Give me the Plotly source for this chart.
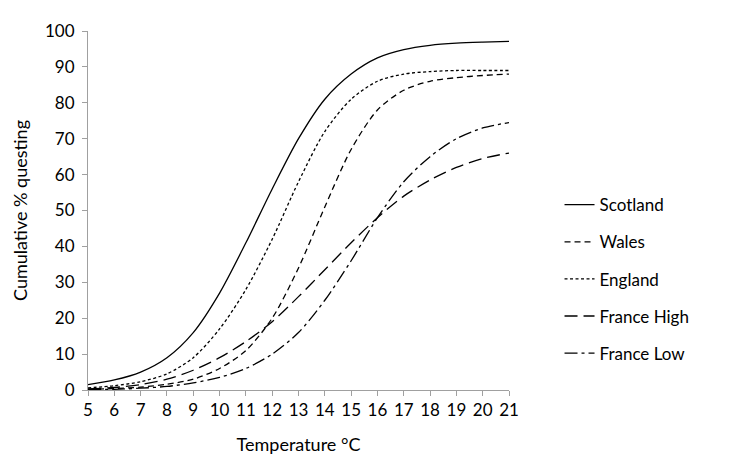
import plotly.graph_objects as go

temps = list(range(5, 22))
scotland = [1.5, 2.8, 5, 9, 16, 27, 41, 56, 70, 81, 88, 92.5, 94.8, 96, 96.6, 96.9, 97.1]
wales = [0.2, 0.4, 0.8, 1.6, 3, 6, 11, 20, 34, 51, 67, 78, 83.5, 86, 87, 87.6, 88]
england = [0.6, 1.2, 2.3, 4.5, 9, 17, 28, 42, 58, 72, 81, 86, 88, 88.7, 89, 89, 89]
france_high = [0.3, 0.7, 1.5, 3, 5.5, 9, 13.5, 19, 26, 33.5, 41, 48, 54, 58.5, 62, 64.5, 66]
france_low = [0.1, 0.2, 0.5, 1, 2, 3.5, 6, 10, 16, 25, 36, 48, 58, 65, 70, 73, 74.5]

series = [
    ("Scotland", scotland, "solid"),
    ("Wales", wales, "6px,4px"),
    ("England", england, "3px,2.5px"),
    ("France High", france_high, "13px,6px"),
    ("France Low", france_low, "13px,4px,3px,4px"),
]

fig = go.Figure()
for i, (name, vals, dash) in enumerate(series):
    fig.add_trace(go.Scatter(
        x=temps, y=vals, name=name, mode="lines",
        line=dict(color="black", width=1.3, dash=dash, shape="spline", smoothing=0.8),
        legendgroup=f"g{i}",
    ))

font_family = "Lato, 'Open Sans', sans-serif"
fig.update_layout(
    width=729, height=462,
    margin=dict(l=78, r=228, t=12, b=80),
    plot_bgcolor="white", paper_bgcolor="white",
    font=dict(family=font_family, size=17, color="black"),
    showlegend=True,
    legend=dict(
        x=1.12, y=0.565, xanchor="left", yanchor="top",
        font=dict(size=17, color="black"),
        tracegroupgap=12,
        bgcolor="rgba(0,0,0,0)",
    ),
    xaxis=dict(
        range=[5, 21], tickmode="array", tickvals=temps, ticktext=[str(t) for t in temps],
        showgrid=False, zeroline=False, showline=True, linecolor="#a0a0a0", linewidth=1,
        ticks="outside", tickcolor="#a0a0a0", ticklen=5,
        tickfont=dict(size=17),
        title=dict(text="Temperature °C", font=dict(size=18), standoff=18),
    ),
    yaxis=dict(
        range=[0, 100], tickmode="array", tickvals=list(range(0, 101, 10)),
        showgrid=False, zeroline=False, showline=True, linecolor="#a0a0a0", linewidth=1,
        ticks="outside", tickcolor="#a0a0a0", ticklen=5,
        tickfont=dict(size=17), ticklabelstandoff=4,
        title=dict(text="Cumulative % questing", font=dict(size=18), standoff=12),
    ),
)

fig.write_html("out.html")
